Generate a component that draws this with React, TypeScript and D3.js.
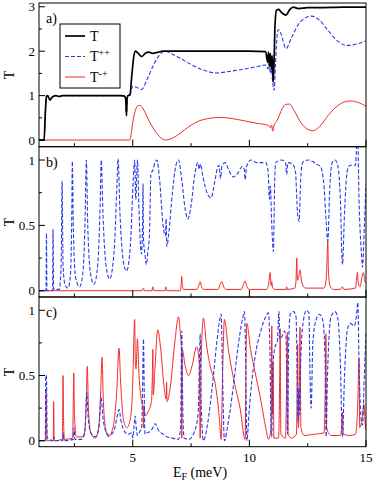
import React from 'react';
import * as d3 from 'd3';

// x ticks (meV)
const xMajor = [5, 10, 15];
const xMinor = [2.5, 7.5, 12.5];

// panel a) y ticks
const aMajor = [0, 1, 2, 3];
const aMinor = [0.5, 1.5, 2.5];
// panels b), c) y ticks
const bMajor = [0, 0.5, 1];
const bMinor = [0.25, 0.75];

const legendNames = ['T', 'T++', 'T-+'];

// panel a) total T
const aT: [number, number][] = [
  [0.98, 0], [1.2, 0], [1.25, 0.6], [1.3, 0.98], [1.35, 1.0], [1.45, 0.9], [1.55, 0.97], [1.7, 1.0],
  [1.85, 0.98], [2.0, 1.0], [2.5, 1.0], [3, 1.0], [3.5, 1.0], [4, 1.0], [4.5, 1.0], [4.65, 0.99],
  [4.7, 0.9], [4.73, 0.55], [4.76, 0.95], [4.8, 1.0], [4.88, 1.02], [4.95, 1.4], [5.05, 1.9],
  [5.12, 2.0], [5.2, 1.97], [5.38, 1.88], [5.55, 1.96], [5.7, 1.98], [5.85, 1.95], [6.1, 1.98],
  [6.3, 2.0], [7, 2.0], [8, 2.0], [9, 2.0], [10, 2.0], [10.7, 1.99], [10.78, 1.75], [10.82, 1.98],
  [10.86, 1.65], [10.9, 1.95], [10.94, 1.6], [10.98, 1.9], [11.02, 1.3], [11.06, 1.8], [11.1, 2.6],
  [11.16, 2.92], [11.25, 2.94], [11.4, 2.86], [11.57, 2.81], [11.72, 2.93], [11.89, 2.99],
  [12.1, 2.96], [12.5, 2.98], [13, 2.98], [14, 2.99], [15, 2.99],
];

// panel a) T++
const aTpp: [number, number][] = [
  [0.98, 0], [1.2, 0], [1.25, 0.6], [1.3, 0.98], [1.35, 1.0], [1.45, 0.9], [1.55, 0.97], [1.7, 1.0],
  [1.85, 0.98], [2.0, 1.0], [2.5, 1.0], [3, 1.0], [3.5, 1.0], [4, 1.0], [4.5, 1.0], [4.65, 0.99],
  [4.7, 0.9], [4.73, 0.55], [4.76, 0.95], [4.8, 1.0], [4.88, 1.0], [4.95, 1.15], [5.0, 1.21],
  [5.15, 1.19], [5.39, 1.14], [5.6, 1.35], [5.9, 1.7], [6.15, 1.92], [6.38, 2.0], [6.7, 1.93],
  [7.03, 1.84], [7.5, 1.7], [8.0, 1.58], [8.6, 1.51], [9.2, 1.55], [9.8, 1.6], [10.4, 1.66],
  [10.7, 1.69], [10.8, 1.6], [10.85, 1.72], [10.9, 1.5], [10.95, 1.6], [11.0, 1.3], [11.06, 1.12],
  [11.12, 1.7], [11.18, 2.3], [11.24, 2.49], [11.35, 2.4], [11.57, 2.06], [11.8, 2.3], [12.1, 2.6],
  [12.4, 2.75], [12.68, 2.79], [13.0, 2.7], [13.4, 2.45], [13.8, 2.22], [14.18, 2.13],
  [14.6, 2.16], [15, 2.23],
];

// panel a) T-+
const aTmp: [number, number][] = [
  [0.98, 0], [4.86, 0], [4.92, 0.1], [5.0, 0.4], [5.1, 0.65], [5.2, 0.76], [5.31, 0.78],
  [5.45, 0.7], [5.7, 0.43], [6.0, 0.17], [6.25, 0.03], [6.41, 0.0], [6.6, 0.02], [6.8, 0.07],
  [7.03, 0.15], [7.4, 0.3], [7.8, 0.42], [8.3, 0.49], [8.74, 0.51], [9.3, 0.48], [9.8, 0.43],
  [10.3, 0.38], [10.8, 0.33], [10.9, 0.28], [10.95, 0.34], [11.0, 0.2], [11.05, 0.32], [11.2, 0.45],
  [11.4, 0.7], [11.55, 0.8], [11.72, 0.81], [11.9, 0.68], [12.2, 0.4], [12.5, 0.24], [12.74, 0.21],
  [13.0, 0.3], [13.4, 0.57], [13.8, 0.78], [14.32, 0.88], [14.7, 0.84], [15, 0.76],
];

// panel b) T++
const bTpp: [number, number][] = [
  [0.98, 0], [1.28, 0.0], [1.3, 0.44], [1.32, 0.0], [1.56, 0.0], [1.58, 0.47], [1.61, 0.01],
  [1.85, 0.01], [1.93, 0.2], [1.97, 0.84], [2.01, 0.2], [2.1, 0.04], [2.22, 0.02], [2.32, 0.1],
  [2.38, 0.5], [2.41, 0.99], [2.45, 0.5], [2.55, 0.1], [2.72, 0.03], [2.85, 0.12], [2.95, 0.5],
  [3.01, 1.0], [3.07, 0.5], [3.2, 0.12], [3.34, 0.05], [3.5, 0.2], [3.6, 0.65], [3.65, 1.0],
  [3.72, 0.6], [3.85, 0.2], [4.01, 0.09], [4.2, 0.3], [4.32, 0.8], [4.37, 1.01], [4.45, 0.6],
  [4.6, 0.22], [4.73, 0.15], [4.9, 0.35], [5.02, 0.85], [5.08, 1.0], [5.13, 0.7], [5.2, 1.0],
  [5.27, 0.6], [5.37, 0.28], [5.42, 0.5], [5.44, 0.82], [5.46, 0.4], [5.53, 0.27], [5.58, 0.2],
  [5.65, 0.3], [5.72, 0.45], [5.78, 0.9], [5.86, 0.92], [5.95, 0.98], [6.03, 1.0], [6.15, 0.85],
  [6.3, 0.5], [6.4, 0.42], [6.43, 0.55], [6.46, 0.34], [6.55, 0.45], [6.7, 0.75], [6.85, 0.96],
  [6.96, 1.0], [7.1, 0.85], [7.25, 0.62], [7.36, 0.55], [7.5, 0.65], [7.65, 0.88], [7.79, 0.98],
  [7.85, 0.93], [7.9, 0.97], [8.0, 0.88], [8.2, 0.74], [8.36, 0.71], [8.5, 0.82], [8.65, 0.95],
  [8.7, 0.96], [8.76, 0.86], [8.82, 0.95], [8.96, 0.98], [9.1, 0.93], [9.31, 0.87], [9.5, 0.9],
  [9.7, 0.95], [9.78, 0.93], [9.82, 0.85], [9.88, 0.95], [10.07, 1.0], [10.3, 0.98], [10.7, 0.98],
  [10.8, 0.92], [10.86, 0.7], [10.9, 0.8], [10.95, 0.55], [11.03, 0.3], [11.08, 0.8], [11.13, 0.98],
  [11.39, 1.0], [11.55, 0.98], [11.6, 0.89], [11.65, 0.98], [11.85, 0.97], [11.98, 0.9],
  [12.06, 0.6], [12.13, 0.53], [12.2, 0.85], [12.28, 0.98], [12.5, 1.0], [12.7, 0.99],
  [12.85, 0.97], [13.05, 0.95], [13.2, 0.8], [13.3, 0.5], [13.36, 0.38], [13.45, 0.8],
  [13.55, 0.98], [13.67, 1.0], [13.8, 0.95], [13.9, 0.7], [13.99, 0.2], [14.08, 0.6], [14.2, 0.92],
  [14.32, 0.96], [14.55, 0.96], [14.6, 1.1], [14.65, 1.12], [14.7, 0.7], [14.8, 0.3], [14.85, 0.18],
  [14.93, 0.5], [15, 0.82],
];

// panel b) T-+
const bTmp: [number, number][] = [
  [0.98, 0], [5.4, 0.0], [5.46, 0.02], [5.5, 0], [5.82, 0.0], [5.86, 0.03], [5.9, 0.0], [6.38, 0.0],
  [6.42, 0.03], [6.46, 0], [7.04, 0.0], [7.08, 0.06], [7.1, 0.11], [7.12, 0.06], [7.16, 0.01],
  [7.75, 0.01], [7.85, 0.05], [7.89, 0.07], [7.95, 0.03], [8.05, 0.01], [8.65, 0.01], [8.75, 0.05],
  [8.82, 0.07], [8.9, 0.03], [9.0, 0.01], [9.65, 0.01], [9.75, 0.05], [9.82, 0.075], [9.9, 0.03],
  [10.0, 0.01], [10.75, 0.01], [10.83, 0.06], [10.89, 0.14], [10.93, 0.04], [10.96, 0.07],
  [11.0, 0.02], [11.1, 0.01], [11.58, 0.01], [11.6, 0.03], [11.62, 0.01], [11.95, 0.02],
  [12.0, 0.08], [12.03, 0.25], [12.06, 0.08], [12.12, 0.11], [12.17, 0.16], [12.25, 0.06],
  [12.4, 0.02], [13.2, 0.02], [13.3, 0.1], [13.34, 0.3], [13.36, 0.39], [13.39, 0.15],
  [13.45, 0.04], [13.6, 0.01], [13.9, 0.01], [13.99, 0.03], [14.05, 0.01], [14.55, 0.02],
  [14.6, 0.1], [14.63, 0.14], [14.67, 0.06], [14.75, 0.03], [14.82, 0.1], [14.89, 0.14],
  [14.95, 0.07], [15, 0.06],
];

// panel c) T++
const cTpp: [number, number][] = [
  [0.98, 0], [1.25, 0.0], [1.27, 0.5], [1.3, 0.5], [1.33, 0.02], [1.6, 0.0], [1.62, 0.03],
  [1.65, 0], [2.0, 0.0], [2.02, 0.06], [2.05, 0], [2.45, 0.01], [2.48, 0.1], [2.52, 0.01],
  [2.8, 0.01], [2.95, 0.08], [3.03, 0.37], [3.08, 0.2], [3.2, 0.06], [3.4, 0.03], [3.55, 0.1],
  [3.64, 0.33], [3.72, 0.18], [3.85, 0.07], [4.0, 0.04], [4.2, 0.08], [4.35, 0.2], [4.41, 0.24],
  [4.5, 0.15], [4.65, 0.07], [4.8, 0.05], [4.95, 0.06], [5.0, 0.02], [5.05, 0.1], [5.1, 0.19],
  [5.15, 0.1], [5.2, 0.04], [5.3, 0.07], [5.38, 0.1], [5.43, 0.5], [5.46, 0.78], [5.49, 0.4],
  [5.52, 0.05], [5.6, 0.06], [5.75, 0.07], [5.86, 0.1], [5.96, 0.13], [6.1, 0.08], [6.3, 0.05],
  [6.46, 0.03], [6.7, 0.02], [6.96, 0.01], [7.05, 0.1], [7.1, 0.84], [7.14, 0.3], [7.2, 0.02],
  [7.4, 0.01], [7.6, 0.05], [7.8, 0.2], [7.86, 0.6], [7.89, 0.82], [7.93, 0.3], [8.03, 0.0],
  [8.2, 0.12], [8.4, 0.4], [8.6, 0.75], [8.72, 0.92], [8.79, 0.97], [8.85, 0.5], [8.93, 0.0],
  [9.1, 0.15], [9.3, 0.4], [9.5, 0.7], [9.7, 0.93], [9.79, 0.99], [9.85, 0.5], [9.89, 0.0],
  [10.0, 0.25], [10.1, 0.45], [10.24, 0.64], [10.5, 0.85], [10.7, 0.95], [10.82, 0.98],
  [10.88, 0.7], [10.93, 0.1], [10.96, 0.03], [11.0, 0.55], [11.1, 0.72], [11.2, 0.76],
  [11.25, 0.95], [11.27, 0.99], [11.3, 0.78], [11.4, 0.8], [11.5, 0.84], [11.57, 0.8],
  [11.61, 0.35], [11.64, 0.05], [11.68, 0.7], [11.75, 0.97], [11.9, 0.99], [12.0, 0.95],
  [12.05, 0.5], [12.08, 0.15], [12.12, 0.4], [12.15, 0.2], [12.2, 0.6], [12.3, 0.9], [12.45, 1.0],
  [12.55, 0.98], [12.6, 0.5], [12.65, 0.25], [12.72, 0.75], [12.85, 0.92], [13.0, 0.97],
  [13.15, 0.92], [13.25, 0.6], [13.29, 0.03], [13.35, 0.5], [13.5, 0.95], [13.67, 0.99],
  [13.8, 0.93], [13.9, 0.6], [13.99, 0.03], [14.08, 0.5], [14.2, 0.85], [14.32, 0.9], [14.5, 0.88],
  [14.6, 0.97], [14.65, 1.06], [14.7, 0.6], [14.8, 0.15], [14.85, 0.12], [14.93, 0.5], [15, 0.83],
];

// panel c) T-+
const cTmp: [number, number][] = [
  [0.98, 0], [1.26, 0.0], [1.28, 0.2], [1.29, 0.38], [1.3, 0.2], [1.32, 0], [1.59, 0.0],
  [1.61, 0.3], [1.63, 0.0], [1.98, 0.01], [2.0, 0.3], [2.01, 0.5], [2.03, 0.2], [2.07, 0.01],
  [2.42, 0.02], [2.45, 0.3], [2.47, 0.52], [2.5, 0.2], [2.58, 0.03], [2.9, 0.03], [3.0, 0.25],
  [3.05, 0.57], [3.1, 0.25], [3.2, 0.06], [3.4, 0.02], [3.55, 0.12], [3.63, 0.4], [3.68, 0.64],
  [3.74, 0.3], [3.85, 0.08], [3.95, 0.03], [4.15, 0.1], [4.32, 0.4], [4.41, 0.71], [4.48, 0.45],
  [4.6, 0.16], [4.75, 0.1], [4.9, 0.17], [5.0, 0.45], [5.05, 0.8], [5.08, 0.93], [5.11, 0.6],
  [5.14, 0.55], [5.2, 0.78], [5.27, 0.5], [5.38, 0.3], [5.44, 0.25], [5.46, 0.1], [5.48, 0.27],
  [5.53, 0.19], [5.65, 0.22], [5.8, 0.3], [5.84, 0.5], [5.86, 0.7], [5.88, 0.35], [5.95, 0.55],
  [6.07, 0.85], [6.2, 0.7], [6.35, 0.4], [6.43, 0.32], [6.45, 0.45], [6.47, 0.3], [6.6, 0.4],
  [6.8, 0.75], [6.96, 0.95], [7.05, 0.8], [7.09, 0.7], [7.1, 0.02], [7.12, 0.7], [7.25, 0.57],
  [7.39, 0.5], [7.55, 0.58], [7.74, 0.72], [7.85, 0.6], [7.89, 0.02], [7.93, 0.6], [8.03, 0.94],
  [8.15, 0.75], [8.35, 0.55], [8.53, 0.44], [8.7, 0.2], [8.79, 0.01], [8.85, 0.5], [8.93, 0.93],
  [9.1, 0.7], [9.35, 0.45], [9.6, 0.25], [9.82, 0.01], [9.85, 0.5], [9.89, 0.9], [10.05, 0.7],
  [10.24, 0.53], [10.5, 0.3], [10.7, 0.1], [10.82, 0.01], [10.93, 0.1], [10.96, 0.88],
  [10.99, 0.2], [11.02, 0.6], [11.05, 0.02], [11.25, 0.02], [11.3, 0.5], [11.32, 0.86],
  [11.35, 0.05], [11.55, 0.02], [11.6, 0.5], [11.63, 0.83], [11.66, 0.05], [11.8, 0.02],
  [12.02, 0.05], [12.07, 0.74], [12.1, 0.1], [12.15, 0.5], [12.17, 0.87], [12.21, 0.1],
  [12.35, 0.04], [12.8, 0.05], [13.2, 0.06], [13.26, 0.5], [13.28, 0.82], [13.31, 0.1],
  [13.5, 0.04], [13.9, 0.04], [13.97, 0.15], [13.99, 0.22], [14.02, 0.05], [14.3, 0.04],
  [14.55, 0.05], [14.65, 0.3], [14.7, 0.63], [14.73, 0.1], [14.82, 0.15], [14.91, 0.28],
  [14.97, 0.12], [15, 0.08],
];

const W = 374;
const H = 483;
const left = 39;
const right = 366;
const FONT = "'Liberation Serif', 'DejaVu Serif', 'Times New Roman', serif";
const BLUE = '#2a3be6';
const RED = '#f22a2a';

const x = d3.scaleLinear().domain([0.98, 15]).range([left, right]);

const panels = [
  { id: 'a', tag: 'a)', top: 3, bottom: 146.7, domain: [-0.15, 3.085], major: aMajor, minor: aMinor, series: [aTmp, aTpp, aT] },
  { id: 'b', tag: 'b)', top: 146.7, bottom: 297, domain: [-0.048, 1.102], major: bMajor, minor: bMinor, series: [bTmp, bTpp] },
  { id: 'c', tag: 'c)', top: 297, bottom: 446.7, domain: [-0.046, 1.102], major: bMajor, minor: bMinor, series: [cTmp, cTpp] },
];

const styles = [
  { stroke: RED, width: 1, dash: undefined },
  { stroke: BLUE, width: 1.1, dash: '4,2' },
  { stroke: '#000', width: 1.7, dash: undefined },
];

export default function App() {
  return (
    <svg width={W} height={H} style={{ position: 'absolute', left: 0, top: 0, background: '#fff', fontFamily: FONT }}>
      <defs>
        {panels.map((p) => (
          <clipPath id={`clip-${p.id}`} key={p.id}>
            <rect x={left} y={p.top} width={right - left} height={p.bottom - p.top} />
          </clipPath>
        ))}
      </defs>
      {panels.map((p) => {
        const y = d3.scaleLinear().domain(p.domain).range([p.bottom, p.top]);
        const line = d3
          .line<[number, number]>()
          .x((d) => x(d[0]))
          .y((d) => y(d[1]))
          .curve(d3.curveMonotoneX);
        // red first, then blue, black on top in panel a
        const order = p.id === 'a' ? [0, 1, 2] : [0, 1];
        return (
          <g key={p.id}>
            <g clipPath={`url(#clip-${p.id})`}>
              {order.map((si) => (
                <path
                  key={si}
                  d={line(p.series[si]) || ''}
                  fill="none"
                  stroke={styles[si].stroke}
                  strokeWidth={styles[si].width}
                  strokeDasharray={styles[si].dash}
                  strokeLinejoin="round"
                />
              ))}
            </g>
            <rect x={left} y={p.top} width={right - left} height={p.bottom - p.top} fill="none" stroke="#000" strokeWidth={1} />
            {xMajor.map((t) => (
              <line key={`xM${t}`} x1={x(t)} x2={x(t)} y1={p.bottom} y2={p.bottom - 7} stroke="#000" />
            ))}
            {xMinor.map((t) => (
              <line key={`xm${t}`} x1={x(t)} x2={x(t)} y1={p.bottom} y2={p.bottom - 3.5} stroke="#000" />
            ))}
            {p.major.map((t) => (
              <g key={`yM${t}`}>
                <line x1={left} x2={left + 6} y1={y(t)} y2={y(t)} stroke="#000" />
                <text x={left - 4} y={y(t)} dy="0.35em" textAnchor="end" fontSize={13}>
                  {String(t)}
                </text>
              </g>
            ))}
            {p.minor.map((t) => (
              <line key={`ym${t}`} x1={left} x2={left + 3} y1={y(t)} y2={y(t)} stroke="#000" />
            ))}
            <text
              transform={`translate(9,${(p.top + p.bottom) / 2}) rotate(-90)`}
              textAnchor="middle"
              dy="0.35em"
              fontSize={14}
            >
              T
            </text>
            <text x={46} y={p.top + 20} fontSize={14}>
              {p.tag}
            </text>
          </g>
        );
      })}
      {/* legend */}
      <g>
        <rect x={60} y={24} width={60} height={64} fill="#fff" stroke="#000" strokeWidth={1} />
        {legendNames.map((name, i) => {
          const si = [2, 1, 0][i];
          const yy = 36 + i * 20.5;
          return (
            <g key={name}>
              <line x1={65} x2={85} y1={yy} y2={yy} stroke={styles[si].stroke} strokeWidth={styles[si].width} strokeDasharray={styles[si].dash} />
              <text x={90} y={yy} dy="0.35em" fontSize={14}>
                T
                {name.length > 1 && (
                  <tspan dy="-5" fontSize={10}>
                    {name.slice(1)}
                  </tspan>
                )}
              </text>
            </g>
          );
        })}
      </g>
      {xMajor.map((t) => (
        <text key={`xl${t}`} x={x(t)} y={462} textAnchor="middle" fontSize={13}>
          {String(t)}
        </text>
      ))}
      <text x={200} y={477} textAnchor="middle" fontSize={14}>
        E
        <tspan dy="3" fontSize={10}>F</tspan>
        <tspan dy="-3"> (meV)</tspan>
      </text>
    </svg>
  );
}
